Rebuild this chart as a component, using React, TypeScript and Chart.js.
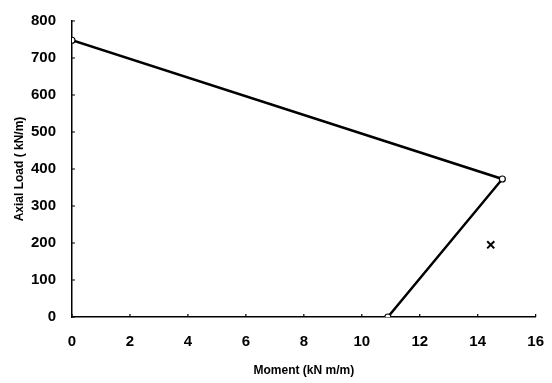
import React, { useEffect, useRef } from "react";
import { Chart, registerables } from "chart.js";

Chart.register(...registerables);

const curveMoment = [0, 14.85, 10.9];
const curveLoad = [748, 373, 0];
const testMoment = [14.45];
const testLoad = [195];
const xTicks = [0, 2, 4, 6, 8, 10, 12, 14, 16];
const yTicks = [0, 100, 200, 300, 400, 500, 600, 700, 800];
const xTitle = "Moment (kN m/m)";
const yTitle = "Axial Load ( kN/m)";

const innerTicks = {
  id: "innerTicks",
  afterDraw(chart: any) {
    const { ctx, scales } = chart;
    const x = scales.x;
    const y = scales.y;
    ctx.save();
    ctx.strokeStyle = "#000";
    ctx.lineWidth = 1.2;
    ctx.beginPath();
    xTicks.forEach((v) => {
      const px = x.getPixelForValue(v);
      ctx.moveTo(px, y.bottom);
      ctx.lineTo(px, y.bottom - 3);
    });
    yTicks.forEach((v) => {
      const py = y.getPixelForValue(v);
      ctx.moveTo(x.left, py);
      ctx.lineTo(x.left + 3, py);
    });
    ctx.stroke();
    ctx.restore();
  },
};

export default function App() {
  const ref = useRef<HTMLCanvasElement | null>(null);
  useEffect(() => {
    if (!ref.current) return;
    const font = { family: "'Liberation Sans', Arial, sans-serif", weight: "bold" as const };
    const chart = new Chart(ref.current, {
      type: "scatter",
      data: {
        datasets: [
          {
            data: curveMoment.map((x, i) => ({ x, y: curveLoad[i] })),
            showLine: true,
            borderColor: "#000",
            borderWidth: 2.5,
            pointStyle: "circle",
            pointRadius: 3,
            pointBackgroundColor: "#fff",
            pointBorderColor: "#000",
            pointBorderWidth: 1.2,
          },
          {
            data: testMoment.map((x, i) => ({ x, y: testLoad[i] })),
            showLine: false,
            pointStyle: "crossRot",
            pointRadius: 5,
            borderColor: "#000",
            pointBorderColor: "#000",
            pointBorderWidth: 2,
          },
        ],
      },
      options: {
        responsive: false,
        animation: false,
        layout: { padding: { left: 8, right: 10, top: 21, bottom: 2 } },
        plugins: { legend: { display: false }, tooltip: { enabled: false } },
        scales: {
          x: {
            type: "linear",
            min: 0,
            max: 16,
            afterBuildTicks: (s: any) => {
              s.ticks = xTicks.map((v) => ({ value: v }));
            },
            afterFit: (s: any) => {
              s.height = 383 - 317 - 2;
            },
            grid: { display: false },
            border: { display: true, color: "#000", width: 1.5 },
            ticks: { color: "#000", font: { ...font, size: 15 }, padding: 8 },
            title: { display: true, text: xTitle, color: "#000", font: { ...font, size: 12 }, padding: { top: 10, bottom: 3 } },
          },
          y: {
            type: "linear",
            min: 0,
            max: 800,
            afterBuildTicks: (s: any) => {
              s.ticks = yTicks.map((v) => ({ value: v }));
            },
            afterFit: (s: any) => {
              s.width = 72 - 8;
            },
            grid: { display: false },
            border: { display: true, color: "#000", width: 1.5 },
            ticks: { color: "#000", font: { ...font, size: 15 }, padding: 8 },
            title: { display: true, text: yTitle, color: "#000", font: { ...font, size: 12 }, padding: { bottom: 4 } },
          },
        },
      },
      plugins: [innerTicks],
    });
    return () => chart.destroy();
  }, []);
  return (
    <div style={{ position: "fixed", left: 0, top: 0, width: 552, height: 383, background: "#fff" }}>
      <canvas ref={ref} width={552} height={383} style={{ width: 552, height: 383 }} />
    </div>
  );
}
